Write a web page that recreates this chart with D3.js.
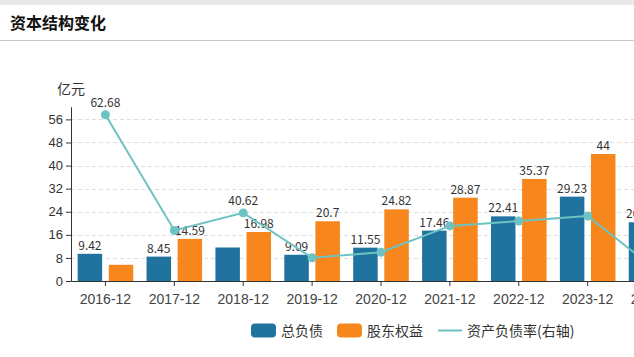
<!DOCTYPE html>
<html><head><meta charset="utf-8">
<script src="https://cdn.jsdelivr.net/npm/d3@7/dist/d3.min.js"></script>
<style>
html,body{margin:0;padding:0;background:#fff;overflow:hidden;}
svg{display:block;font-family:"Noto Sans CJK SC","Noto Sans",sans-serif;}
</style></head>
<body><svg id="c" width="634" height="357"></svg>
<script>
const categories = ["2016-12","2017-12","2018-12","2019-12","2020-12","2021-12","2022-12","2023-12","2024-12"];
const totalDebt = [9.42, 8.45, 11.61, 9.09, 11.55, 17.46, 22.41, 29.23, 20.35];
const equity = [5.61, 14.59, 16.98, 20.7, 24.82, 28.87, 35.37, 44, 53.1];
const debtRatio = [62.68, 36.67, 40.62, 30.51, 31.76, 37.69, 38.79, 39.92, 27.7];
const leftTicks = [0, 8, 16, 24, 32, 40, 48, 56];
const hiddenDebtLabels = ["2018-12"];
const hiddenEquityLabels = ["2016-12"];
const shownRatioLabels = ["2016-12", "2018-12"];
const seriesNames = ["总负债", "股东权益", "资产负债率(右轴)"];
const title = "资本结构变化";
const unit = "亿元";

const blue = "#20739f", orange = "#f7861c", teal = "#6cc3c1";
const svg = d3.select("#c");

// header
svg.append("rect").attr("x",0).attr("y",0).attr("width",634).attr("height",5).attr("fill","#e9e9e9");
svg.append("text").attr("x",10).attr("y",29).attr("font-size",16).attr("font-weight","bold").attr("fill","#111").text(title);
svg.append("line").attr("x1",0).attr("x2",634).attr("y1",40.5).attr("y2",40.5).attr("stroke","#c8c8c8");

const x0 = d3.scaleBand().domain(categories).range([71, 691]);
const yL = d3.scaleLinear().domain([0, 60.4]).range([281, 106.7]);
const yR = d3.scaleLinear().domain([25.3, 64.5]).range([281, 106.7]);
const barW = 24.5, gap = 6.6;

// grid
svg.append("g").selectAll("line").data(leftTicks.filter(d=>d>0)).join("line")
  .attr("x1",71).attr("x2",634).attr("y1",d=>Math.round(yL(d))+0.5).attr("y2",d=>Math.round(yL(d))+0.5)
  .attr("stroke","#dedede").attr("stroke-dasharray","4,3");

// bars
const cx = d => x0(d) + x0.bandwidth()/2;
svg.append("g").selectAll("rect").data(categories).join("rect")
  .attr("x",(d)=>cx(d)-gap/2-barW).attr("width",barW)
  .attr("y",(d,i)=>yL(totalDebt[i])).attr("height",(d,i)=>yL(0)-yL(totalDebt[i])).attr("fill",blue);
svg.append("g").selectAll("rect").data(categories).join("rect")
  .attr("x",(d)=>cx(d)+gap/2).attr("width",barW)
  .attr("y",(d,i)=>yL(equity[i])).attr("height",(d,i)=>yL(0)-yL(equity[i])).attr("fill",orange);

// bar labels
const lab = svg.append("g").attr("font-size",12).attr("fill","#333").attr("text-anchor","middle");
categories.forEach((c,i)=>{
  if(!hiddenDebtLabels.includes(c)) lab.append("text").attr("x",cx(c)-gap/2-barW/2).attr("y",yL(totalDebt[i])-4).text(totalDebt[i]);
  if(!hiddenEquityLabels.includes(c)) lab.append("text").attr("x",cx(c)+gap/2+barW/2).attr("y",yL(equity[i])-4).text(equity[i]);
});

// axes
const axL = svg.append("g").attr("transform","translate(71,0)")
  .call(d3.axisLeft(yL).tickValues(leftTicks).tickSize(5).tickSizeOuter(0));
axL.select(".domain").attr("stroke","#333");
axL.selectAll(".tick line").attr("stroke","#333");
axL.selectAll("text").attr("font-size",13).attr("fill","#333").attr("font-family",null);

const axB = svg.append("g").attr("transform","translate(0,281)")
  .call(d3.axisBottom(x0).tickSize(5).tickSizeOuter(0).tickPadding(8));
axB.select(".domain").attr("stroke","#333");
axB.selectAll(".tick line").attr("stroke","#333");
axB.selectAll("text").attr("font-size",14).attr("fill","#444").attr("font-family",null);

svg.append("text").attr("x",71).attr("y",94).attr("text-anchor","middle").attr("font-size",14).attr("fill","#333").text(unit);

// line
const line = d3.line().x((d,i)=>cx(categories[i])).y(d=>yR(d));
svg.append("path").datum(debtRatio).attr("d",line).attr("fill","none").attr("stroke",teal).attr("stroke-width",2);
svg.append("g").selectAll("circle").data(debtRatio).join("circle")
  .attr("cx",(d,i)=>cx(categories[i])).attr("cy",d=>yR(d)).attr("r",4.5).attr("fill",teal);
const rl = svg.append("g").attr("font-size",12).attr("fill","#333").attr("text-anchor","middle");
categories.forEach((c,i)=>{
  if(shownRatioLabels.includes(c)) rl.append("text").attr("x",cx(c)).attr("y",yR(debtRatio[i])-8).text(debtRatio[i]);
});

// legend
const lg = svg.append("g").attr("font-size",14).attr("fill","#333");
lg.append("rect").attr("x",251).attr("y",323.5).attr("width",25).attr("height",14).attr("rx",4).attr("fill",blue);
lg.append("text").attr("x",281).attr("y",335.5).text(seriesNames[0]);
lg.append("rect").attr("x",337).attr("y",323.5).attr("width",25).attr("height",14).attr("rx",4).attr("fill",orange);
lg.append("text").attr("x",367).attr("y",335.5).text(seriesNames[1]);
lg.append("line").attr("x1",438).attr("x2",462).attr("y1",330.5).attr("y2",330.5).attr("stroke",teal).attr("stroke-width",2);
lg.append("text").attr("x",467).attr("y",335.5).text(seriesNames[2]);
</script></body></html>
